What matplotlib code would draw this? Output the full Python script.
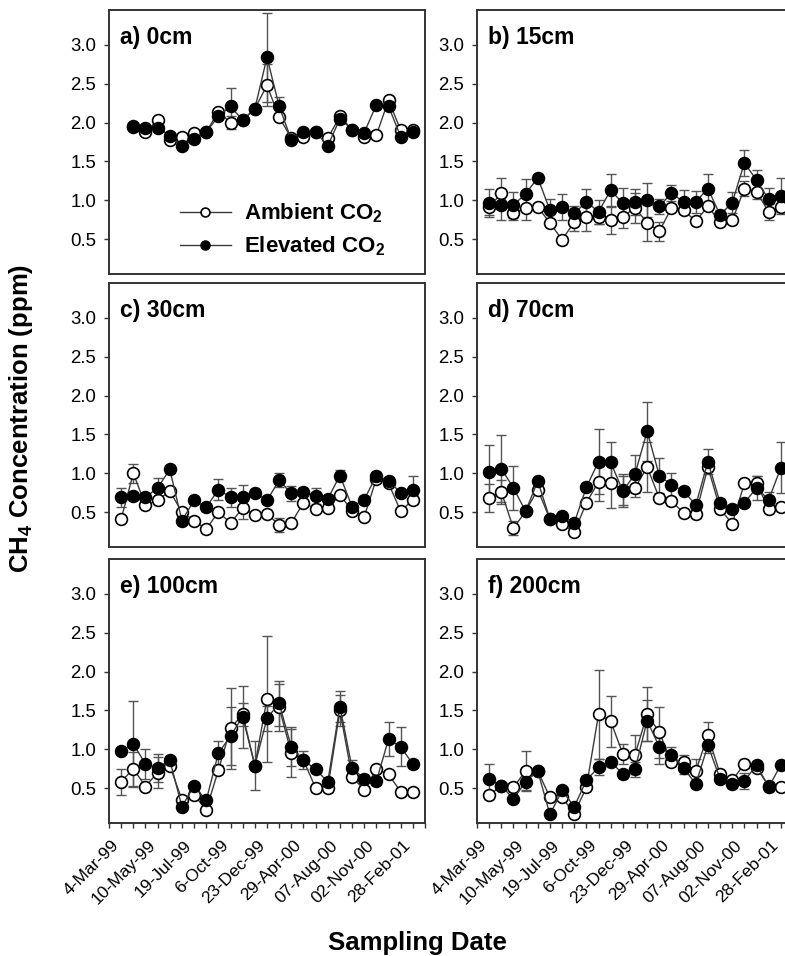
import numpy as np
import matplotlib.pyplot as plt
from matplotlib.transforms import ScaledTranslation

plt.rcParams['font.family'] = ['Liberation Sans', 'DejaVu Sans']
plt.rcParams['mathtext.fontset'] = 'custom'
plt.rcParams['mathtext.rm'] = 'Liberation Sans:bold'
plt.rcParams['mathtext.bf'] = 'Liberation Sans:bold'
plt.rcParams['mathtext.default'] = 'bf'

nan = np.nan

# sampling occasions (categorical positions 1..25), every third one labelled
n_dates = 25
date_labels = ['4-Mar-99', '10-May-99', '19-Jul-99', '6-Oct-99', '23-Dec-99',
               '29-Apr-00', '07-Aug-00', '02-Nov-00', '28-Feb-01']

panel_titles = ['a) 0cm', 'b) 15cm', 'c) 30cm', 'd) 70cm', 'e) 100cm', 'f) 200cm']

# CH4 (ppm), ambient CO2 plots
amb_0 = [nan, 1.96, 1.88, 2.03, 1.77, 1.82, 1.87, 1.88, 2.14, 2.00, 2.03, 2.18, 2.48,
         2.07, 1.80, 1.82, 1.88, 1.80, 2.08, 1.91, 1.82, 1.84, 2.29, 1.90, 1.90]
amb_15 = [0.91, 1.09, 0.83, 0.90, 0.91, 0.71, 0.49, 0.72, 0.79, 0.79, 0.74, 0.79, 0.90,
          0.71, 0.60, 0.90, 0.87, 0.73, 0.92, 0.72, 0.74, 1.15, 1.11, 0.85, 0.91]
amb_30 = [0.41, 1.00, 0.59, 0.65, 0.77, 0.50, 0.39, 0.28, 0.50, 0.36, 0.55, 0.46, 0.48,
          0.33, 0.36, 0.62, 0.54, 0.55, 0.72, 0.52, 0.44, 0.93, 0.87, 0.51, 0.66]
amb_70 = [0.68, 0.76, 0.29, 0.51, 0.79, 0.41, 0.35, 0.24, 0.62, 0.89, 0.87, 0.79, 0.81,
          1.08, 0.68, 0.64, 0.49, 0.47, 1.08, 0.54, 0.35, 0.87, 0.87, 0.54, 0.56]
amb_100 = [0.58, 0.75, 0.52, 0.70, 0.79, 0.35, 0.41, 0.22, 0.73, 1.27, 1.45, 0.79, 1.65,
           1.54, 0.95, 0.86, 0.50, 0.50, 1.50, 0.64, 0.48, 0.74, 0.68, 0.45, 0.45]
amb_200 = [0.41, 0.53, 0.51, 0.72, 0.72, 0.38, 0.38, 0.17, 0.51, 1.45, 1.36, 0.94, 0.93,
           1.45, 1.22, 0.83, 0.83, 0.72, 1.18, 0.68, 0.60, 0.81, 0.76, 0.53, 0.51]

# CH4 (ppm), elevated CO2 plots
elev_0 = [nan, 1.94, 1.93, 1.93, 1.83, 1.70, 1.79, 1.88, 2.08, 2.21, 2.03, 2.18, 2.84,
          2.21, 1.78, 1.88, 1.88, 1.70, 2.05, 1.91, 1.87, 2.23, 2.21, 1.82, 1.88]
elev_15 = [0.96, 0.94, 0.94, 1.08, 1.29, 0.87, 0.91, 0.83, 0.98, 0.85, 1.13, 0.96, 0.98,
           1.00, 0.92, 1.09, 0.98, 0.98, 1.15, 0.81, 0.97, 1.48, 1.26, 1.01, 1.05]
elev_30 = [0.69, 0.71, 0.69, 0.81, 1.05, 0.39, 0.65, 0.56, 0.79, 0.69, 0.69, 0.75, 0.65,
           0.91, 0.74, 0.76, 0.71, 0.67, 0.97, 0.57, 0.66, 0.97, 0.90, 0.75, 0.79]
elev_70 = [1.01, 1.06, 0.81, 0.51, 0.90, 0.41, 0.45, 0.36, 0.82, 1.15, 1.14, 0.77, 0.99,
           1.54, 0.97, 0.85, 0.77, 0.59, 1.15, 0.62, 0.54, 0.62, 0.81, 0.66, 1.07]
elev_100 = [0.98, 1.07, 0.81, 0.76, 0.86, 0.26, 0.53, 0.34, 0.95, 1.17, 1.42, 0.79, 1.40,
            1.59, 1.03, 0.86, 0.74, 0.58, 1.55, 0.76, 0.62, 0.59, 1.13, 1.03, 0.81]
elev_200 = [0.62, 0.53, 0.36, 0.58, 0.72, 0.16, 0.47, 0.26, 0.60, 0.77, 0.84, 0.68, 0.74,
            1.37, 1.03, 0.93, 0.76, 0.55, 1.05, 0.62, 0.55, 0.59, 0.80, 0.51, 0.80]

# standard errors
amb_err_0 = [nan, 0.03, 0.03, 0.03, 0.03, 0.03, 0.03, 0.03, 0.03, 0.08, 0.03, 0.03, 0.27,
             0.03, 0.03, 0.03, 0.03, 0.03, 0.03, 0.03, 0.03, 0.03, 0.03, 0.03, 0.03]
amb_err_15 = [0.10, 0.20, 0.08, 0.15, 0.03, 0.05, 0.05, 0.11, 0.19, 0.10, 0.17, 0.15, 0.19,
              0.23, 0.12, 0.05, 0.05, 0.05, 0.05, 0.04, 0.05, 0.10, 0.10, 0.10, 0.06]
amb_err_30 = [0.04, 0.12, 0.04, 0.04, 0.04, 0.04, 0.04, 0.04, 0.04, 0.04, 0.14, 0.04, 0.04,
              0.09, 0.04, 0.04, 0.04, 0.04, 0.04, 0.04, 0.04, 0.04, 0.04, 0.04, 0.06]
amb_err_70 = [0.18, 0.15, 0.09, 0.03, 0.03, 0.03, 0.03, 0.03, 0.05, 0.25, 0.32, 0.20, 0.12,
              0.32, 0.05, 0.05, 0.05, 0.05, 0.05, 0.05, 0.05, 0.05, 0.10, 0.05, 0.05]
amb_err_100 = [0.17, 0.22, 0.05, 0.20, 0.05, 0.03, 0.03, 0.03, 0.05, 0.52, 0.15, 0.32, 0.81,
               0.30, 0.31, 0.05, 0.05, 0.05, 0.20, 0.05, 0.05, 0.05, 0.05, 0.05, 0.05]
amb_err_200 = [0.05, 0.03, 0.05, 0.26, 0.03, 0.03, 0.03, 0.03, 0.05, 0.57, 0.33, 0.13, 0.25,
               0.35, 0.33, 0.05, 0.09, 0.16, 0.17, 0.05, 0.05, 0.05, 0.05, 0.05, 0.05]

elev_err_0 = [nan, 0.03, 0.03, 0.03, 0.03, 0.03, 0.03, 0.03, 0.03, 0.23, 0.03, 0.03, 0.57,
              0.12, 0.03, 0.03, 0.03, 0.03, 0.03, 0.03, 0.03, 0.03, 0.03, 0.03, 0.03]
elev_err_15 = [0.18, 0.20, 0.17, 0.19, 0.05, 0.15, 0.17, 0.10, 0.17, 0.15, 0.21, 0.20, 0.17,
               0.22, 0.10, 0.10, 0.15, 0.14, 0.19, 0.06, 0.14, 0.17, 0.13, 0.15, 0.23]
elev_err_30 = [0.12, 0.05, 0.05, 0.13, 0.05, 0.05, 0.05, 0.05, 0.13, 0.12, 0.16, 0.05, 0.05,
               0.09, 0.10, 0.05, 0.10, 0.05, 0.07, 0.05, 0.05, 0.05, 0.05, 0.05, 0.18]
elev_err_70 = [0.36, 0.43, 0.28, 0.03, 0.05, 0.03, 0.03, 0.03, 0.05, 0.42, 0.26, 0.20, 0.25,
               0.38, 0.22, 0.15, 0.05, 0.05, 0.16, 0.05, 0.05, 0.05, 0.16, 0.10, 0.33]
elev_err_100 = [0.03, 0.55, 0.19, 0.18, 0.05, 0.03, 0.03, 0.03, 0.15, 0.37, 0.40, 0.05, 0.16,
                0.29, 0.25, 0.12, 0.05, 0.05, 0.20, 0.10, 0.05, 0.05, 0.22, 0.25, 0.05]
elev_err_200 = [0.19, 0.03, 0.03, 0.10, 0.03, 0.03, 0.03, 0.03, 0.05, 0.10, 0.05, 0.05, 0.10,
                0.27, 0.22, 0.10, 0.08, 0.05, 0.10, 0.05, 0.05, 0.10, 0.05, 0.05, 0.05]

ambient = [amb_0, amb_15, amb_30, amb_70, amb_100, amb_200]
elevated = [elev_0, elev_15, elev_30, elev_70, elev_100, elev_200]
ambient_err = [amb_err_0, amb_err_15, amb_err_30, amb_err_70, amb_err_100, amb_err_200]
elevated_err = [elev_err_0, elev_err_15, elev_err_30, elev_err_70, elev_err_100, elev_err_200]

x = np.arange(1, n_dates + 1)

W, H = 785, 956
fig = plt.figure(figsize=(W / 100, H / 100), dpi=100)

col_left = [109, 477]
row_top = [10, 283, 559]
aw, ah = 316, 264

line_col = '#3a3a3a'
err_col = '#555555'

for k in range(6):
    r, c = divmod(k, 2)
    ax = fig.add_axes([col_left[c] / W, 1 - (row_top[r] + ah) / H, aw / W, ah / H])

    ax.errorbar(x, ambient[k], yerr=ambient_err[k], fmt='none', ecolor=err_col,
                elinewidth=1, capsize=3.5, capthick=1, zorder=1)
    ax.errorbar(x, elevated[k], yerr=elevated_err[k], fmt='none', ecolor=err_col,
                elinewidth=1, capsize=3.5, capthick=1, zorder=1)
    h_amb, = ax.plot(x, ambient[k], '-o', color=line_col, lw=1, ms=8.5,
                     mfc='white', mec='black', mew=1.2, zorder=2)
    h_elev, = ax.plot(x, elevated[k], '-o', color=line_col, lw=1, ms=8.5,
                      mfc='black', mec='black', mew=1.2, zorder=3)

    ax.set_xlim(0, n_dates + 1)
    ax.set_ylim(0.05, 3.45)
    ax.set_yticks([0.5, 1.0, 1.5, 2.0, 2.5, 3.0])
    ax.set_yticklabels(['0.5', '1.0', '1.5', '2.0', '2.5', '3.0'])
    ax.tick_params(axis='y', direction='out', length=3.6, width=1, labelsize=13.4,
                   color='#333333', pad=5.5)
    for s in ax.spines.values():
        s.set_linewidth(1.4)
        s.set_color('#333333')

    if r == 2:
        ax.set_xticks(np.arange(0, n_dates + 2))
        lab = [''] * (n_dates + 2)
        for j, d in enumerate(date_labels):
            lab[1 + 3 * j] = d
        ax.set_xticklabels(lab, rotation=45, ha='right', rotation_mode='anchor')
        ax.tick_params(axis='x', direction='out', length=3.6, width=1, labelsize=12.6,
                       color='#333333', pad=7)
        shift = ScaledTranslation(-10 / 100, 0, fig.dpi_scale_trans)
        for t in ax.get_xticklabels():
            t.set_transform(t.get_transform() + shift)
    else:
        ax.set_xticks([])

    ax.text(0.035, 0.94, panel_titles[k], transform=ax.transAxes, ha='left', va='top',
            fontsize=16.5, fontweight='bold')

    if k == 0:
        ax.legend([h_amb, h_elev], ['Ambient CO$_2$', 'Elevated CO$_2$'],
                  loc='lower left', bbox_to_anchor=(0.16, -0.015), frameon=False,
                  prop={'size': 16, 'weight': 'bold'}, handlelength=2.3,
                  markerscale=0.75, labelspacing=0.42, handletextpad=0.6)

fig.text(0.027, 1 - 418 / H, 'CH$_4$ Concentration (ppm)', rotation=90, ha='center',
         va='center', fontsize=18.5, fontweight='bold')
fig.text(417 / W, 1 - 950 / H, 'Sampling Date', ha='center', va='baseline',
         fontsize=18.5, fontweight='bold')

fig.savefig('out.png', dpi=100)
